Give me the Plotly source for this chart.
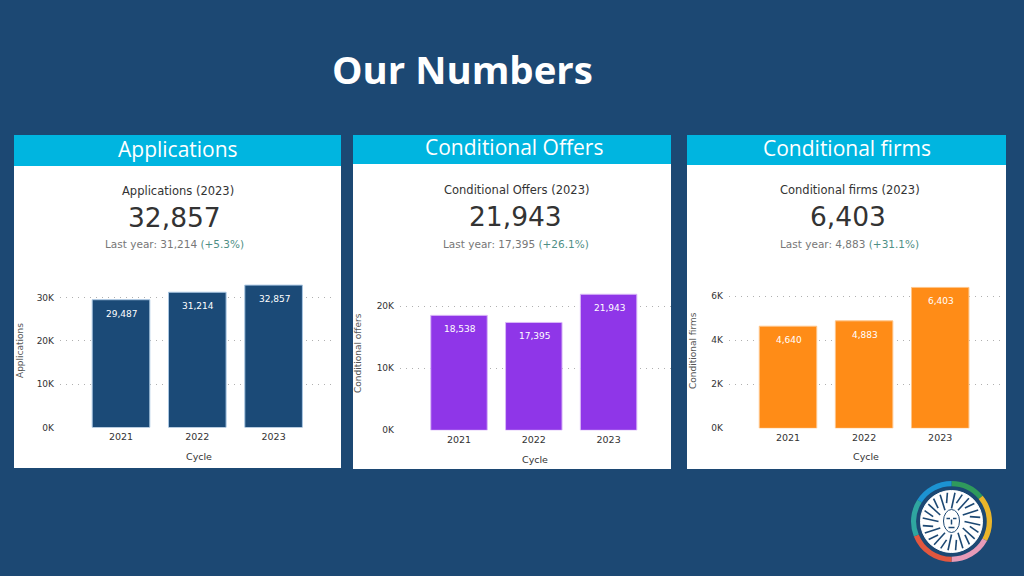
import math
import plotly.graph_objects as go

# ---- data ----
cycles = ["2021", "2022", "2023"]
applications = [29487, 31214, 32857]
conditional_offers = [18538, 17395, 21943]
conditional_firms = [4640, 4883, 6403]
logo_segments = [14, 19, 17, 19, 15, 16]
logo_colours = ["#2f9a5c", "#eab52a", "#e79bb8", "#e2573f", "#2fa6a0", "#1c93d2"]

W, H = 1024, 576
BG = "#1c4873"
HEADER = "#00b5e0"
FONT = "DejaVu Sans"

panels = [
    dict(name="Applications", vals=applications, col="#1b4a77", edge="#a9c6e2", ytitle="Applications",
         rect=(14, 341, 135, 468), head=166, head_x=178, head_y=149, t1=191, t2=217, t3=244,
         sub_x=177.5, num_x=174, last_x=174,
         plot=(60, 335), zero=427.5, top=280, px_per=130 / 30000, ticks=[0, 10000, 20000, 30000],
         c0=121, pitch=76.3, yt_x=20, yt_y=351, xt_y=456, xt_x=199, last=31214, pct="+5.3%"),
    dict(name="Conditional Offers", vals=conditional_offers, col="#8f36e8", edge="#d9b8f7", ytitle="Conditional offers",
         rect=(353, 671, 135, 469), head=164, head_x=513.5, head_y=147, t1=190, t2=216, t3=244,
         sub_x=516, num_x=515.5, last_x=516,
         plot=(400, 671), zero=430.3, top=280, px_per=124 / 20000, ticks=[0, 10000, 20000],
         c0=459, pitch=74.8, yt_x=358, yt_y=353, xt_y=459, xt_x=535, last=17395, pct="+26.1%"),
    dict(name="Conditional firms", vals=conditional_firms, col="#ff8c17", edge="#ffc488", ytitle="Conditional firms",
         rect=(687, 1006, 135, 469), head=165, head_x=847, head_y=148, t1=190, t2=216, t3=244,
         sub_x=849.5, num_x=848, last_x=849.5,
         plot=(729, 1003), zero=428.3, top=280, px_per=132 / 6000, ticks=[0, 2000, 4000, 6000],
         c0=788, pitch=76.1, yt_x=693, yt_y=351, xt_y=456, xt_x=866, last=4883, pct="+31.1%"),
]

fig = go.Figure()
shapes, annos, layout_axes = [], [], {}


def px(x):
    return x / W


def py(y):
    return 1 - y / H


def text(x, y, s, size, colour, family=FONT, **kw):
    annos.append(dict(x=px(x), y=py(y), xref="paper", yref="paper", text=s, showarrow=False,
                      font=dict(size=size, color=colour, family=family),
                      xanchor="center", yanchor="middle", **kw))


text(462, 69, "<b>Our Numbers</b>", 38.4, "#ffffff", family="Open Sans")

for i, p in enumerate(panels, start=1):
    x0, x1, y0, y1 = p["rect"]
    shapes.append(dict(type="rect", xref="paper", yref="paper", x0=px(x0), x1=px(x1), y0=py(y0), y1=py(y1),
                       fillcolor="#ffffff", line_width=0, layer="below"))
    shapes.append(dict(type="rect", xref="paper", yref="paper", x0=px(x0), x1=px(x1), y0=py(y0), y1=py(p["head"]),
                       fillcolor=HEADER, line_width=0, layer="below"))
    text(p["head_x"], p["head_y"], p["name"], 21, "#ffffff", family="Open Sans")
    text(p["sub_x"], p["t1"], f'{p["name"]} (2023)', 11.5, "#333333")
    text(p["num_x"], p["t2"], f'{p["vals"][-1]:,}', 26.5, "#333333")
    text(p["last_x"], p["t3"],
         f'Last year: {p["last"]:,} <span style="color:#4f8f86">({p["pct"]})</span>', 10.5, "#777777")

    xa = "x" if i == 1 else f"x{i}"
    ya = "y" if i == 1 else f"y{i}"
    fig.add_trace(go.Bar(x=[0, 1, 2], y=p["vals"], width=0.755, xaxis=xa, yaxis=ya, showlegend=False,
                         marker=dict(color=p["col"], line=dict(color=p["edge"], width=1))))
    for k, v in enumerate(p["vals"]):
        annos.append(dict(x=k, y=v, xref=xa, yref=ya, text=f"{v:,}", showarrow=False, yshift=-14, xshift=1,
                          font=dict(size=9, color="#ffffff", family=FONT)))

    left, right = p["plot"]
    layout_axes[f"xaxis{'' if i == 1 else i}"] = dict(
        domain=[px(left), px(right)], anchor=ya,
        range=[(left - p["c0"]) / p["pitch"], (right - p["c0"]) / p["pitch"]],
        tickmode="array", tickvals=[0, 1, 2], ticktext=cycles, showgrid=False, zeroline=False, showline=False,
        ticks="", ticklen=0, ticklabelstandoff=2, tickfont=dict(size=9.5, color="#333333", family=FONT))
    layout_axes[f"yaxis{'' if i == 1 else i}"] = dict(
        domain=[py(p["zero"]), py(p["top"])], anchor=xa,
        range=[0, (p["zero"] - p["top"]) / p["px_per"]],
        tickmode="array", tickvals=p["ticks"], ticktext=[f"{t // 1000}K" for t in p["ticks"]],
        showgrid=True, gridcolor="#b0b0b0", griddash="1px,5px", gridwidth=1, zeroline=False, showline=False,
        ticklabelstandoff=5, tickfont=dict(size=9, color="#333333", family=FONT))
    text(p["xt_x"], p["xt_y"], "Cycle", 9.5, "#333333")
    text(p["yt_x"], p["yt_y"], p["ytitle"], 9, "#555555", textangle=-90)

# logo: coloured ring, white disc and a simplified bearded face
fig.add_trace(go.Pie(values=logo_segments, sort=False, direction="clockwise", rotation=0, hole=0.87,
                     marker=dict(colors=logo_colours, line=dict(width=0)), textinfo="none", showlegend=False,
                     domain=dict(x=[px(911), px(992)], y=[py(562), py(481)])))
cx, cy, r = 951.5, 521.5, 31
NAVY = "#1c4873"


def seg(a, b, c, d, width):
    shapes.append(dict(type="line", xref="paper", yref="paper", x0=px(cx + a), x1=px(cx + c),
                       y0=py(cy + b), y1=py(cy + d), line=dict(color=NAVY, width=width), layer="above"))


shapes.append(dict(type="circle", xref="paper", yref="paper", x0=px(cx - r), x1=px(cx + r), y0=py(cy + r), y1=py(cy - r),
                   fillcolor="#ffffff", line=dict(color="#ffffff", width=1), layer="above"))
for deg in range(0, 360, 15):
    a = math.radians(deg)
    ri = 13 if deg % 30 == 0 else 19
    seg(ri * math.cos(a), ri * math.sin(a), 29 * math.cos(a + 0.12), 29 * math.sin(a + 0.12), 1.6)
shapes.append(dict(type="circle", xref="paper", yref="paper", x0=px(cx - 8), x1=px(cx + 8), y0=py(cy + 11), y1=py(cy - 12),
                   fillcolor="#ffffff", line=dict(color=NAVY, width=1), layer="above"))
for a, b, c, d in [(-5, -3, -1.5, -3), (1.5, -3, 5, -3), (0, -2, 0, 3), (-3, 6, 3, 6)]:
    seg(a, b, c, d, 1.5)

fig.update_layout(width=W, height=H, margin=dict(l=0, r=0, t=0, b=0, pad=0, autoexpand=False),
                  paper_bgcolor=BG, plot_bgcolor="rgba(0,0,0,0)",
                  shapes=shapes, annotations=annos, **layout_axes)
fig.write_html("out.html", config=dict(displayModeBar=False),
               post_script="document.body.style.margin='0';document.documentElement.style.overflow='hidden';")
